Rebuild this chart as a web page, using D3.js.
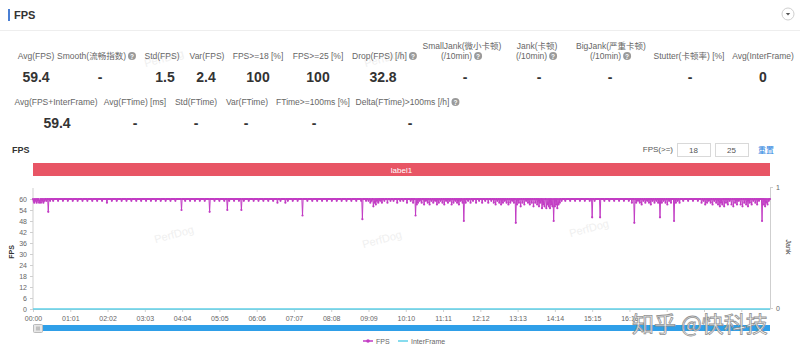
<!DOCTYPE html>
<html><head><meta charset="utf-8">
<script src="https://cdn.jsdelivr.net/npm/d3@7"></script>
<style>
html,body{margin:0;padding:0;background:#fff;}
svg{display:block;font-family:"Liberation Sans","Noto Sans CJK SC",sans-serif;}
</style></head>
<body>
<svg id="c" width="800" height="355"></svg>
<script>
// ---------------- DATA ----------------
const statLabelsRow1 = [["Avg(FPS)"],["Smooth(流畅指数)"],["Std(FPS)"],["Var(FPS)"],["FPS>=18 [%]"],["FPS>=25 [%]"],["Drop(FPS) [/h]"],["SmallJank(微小卡顿)","(/10min)"],["Jank(卡顿)","(/10min)"],["BigJank(严重卡顿)","(/10min)"],["Stutter(卡顿率) [%]"],["Avg(InterFrame)"]];
const statHelpRow1 = [false,true,false,false,false,false,true,true,true,true,false,false];
const statValuesRow1 = ["59.4","-","1.5","2.4","100","100","32.8","-","-","-","-","0"];
const statLabelsRow2 = ["Avg(FPS+InterFrame)","Avg(FTime) [ms]","Std(FTime)","Var(FTime)","FTime>=100ms [%]","Delta(FTime)>100ms [/h]"];
const statHelpRow2 = [false,false,false,false,false,true];
const statValuesRow2 = ["59.4","-","-","-","-","-"];

const fpsThresholds = ["18","25"];
const labelBars = ["label1"];
const durationSeconds = 1206;
const fpsBaseline = 60;
// seconds where the FPS left 60: [second, fps]
const fpsDips = [
[1,59],[2,58],[4,59],[6,58],[8,59],[10,58],[11,59],[13,58],[15,59],[17,58],[19,59],[22,59],[25,53],[28,59],
[33,59],[41,59],[49,59],[57,59],[65,59],[73,59],[81,59],[89,59],[97,59],[105,59],[113,59],[121,58],[129,59],[137,59],[145,59],[153,59],[161,59],[169,59],[177,59],[185,59],[193,59],[201,59],[209,59],[217,59],[225,59],[233,59],[243,54],[249,59],[257,59],[265,59],[273,59],[281,59],[289,53],[297,59],[305,59],[313,59],[318,54],[321,59],[329,59],[337,59],[341,54],[345,59],[353,59],[361,59],[369,59],[377,59],[385,59],[393,59],[400,58],[405,59],[413,58],[417,59],[425,59],[433,59],[441,51],[449,59],[457,59],[465,59],[473,59],[481,59],[489,59],[497,59],[505,59],[513,59],[521,59],[529,59],[537,59],
[539,49],[545,59],[549,59],[552,58],[554,59],[557,56],[559,58],[561,57],[563,59],[565,58],[568,59],[571,58],[575,59],[580,58],[585,59],[590,59],[596,58],[601,59],[606,59],[612,58],[618,59],[622,58],
[626,51],[628,57],[630,58],[633,59],[636,58],[640,57],[643,59],[646,58],[649,57],[652,59],[655,58],[658,59],[661,57],[664,58],[667,59],[670,58],[673,57],[676,59],[679,58],[682,59],[685,57],[688,58],[691,59],[694,58],[697,57],[700,59],[703,58],[705,48],[708,58],[712,59],[716,58],[720,59],[725,58],[730,59],[735,58],[740,59],[745,58],[750,59],[754,58],[757,57],[760,59],[763,58],[766,57],[769,58],[772,59],[775,58],[778,57],[781,58],[784,59],[787,58],
[790,47],[792,57],[795,58],[798,56],[801,58],[804,57],[807,59],[810,58],[813,57],[816,58],[819,56],[822,58],[825,57],[828,56],[830,58],[833,55],[835,57],[837,56],[840,55],[842,57],[844,56],[846,55],[848,57],[850,56],[852,48],[854,56],[856,57],[858,55],[860,57],[862,58],[865,59],
[871,59],[879,59],[887,59],[895,59],[903,59],[911,59],[915,50],[919,59],[928,50],[935,59],[943,59],[951,59],[959,59],[967,59],[975,59],
[980,58],[984,47],[987,58],[990,59],[993,58],[996,57],[999,59],[1002,58],[1005,59],[1008,58],[1011,57],[1014,59],[1017,58],[1020,59],[1023,58],[1026,50],[1029,58],[1032,59],[1035,58],[1038,57],[1041,59],[1044,58],[1049,48],[1052,58],[1055,59],[1058,58],
[1064,59],[1072,59],[1080,59],[1088,59],
[1094,58],[1097,59],[1100,57],[1103,58],[1106,59],[1109,58],[1112,57],[1115,59],[1118,58],[1121,57],[1124,56],[1126,58],[1128,57],[1131,56],[1134,58],[1137,57],[1140,59],[1143,57],[1146,56],[1149,58],[1152,57],[1155,59],[1158,57],[1161,56],[1164,58],[1167,57],[1170,56],[1173,58],[1176,57],[1179,59],[1182,58],[1185,57],[1188,59],[1193,48],[1196,57],[1198,56],[1200,58],[1202,57],[1204,59]
];
const interFrameSeries = [[0,0],[1206,0]];
const yTicks = [0,6,12,18,24,30,36,42,48,54,60];
const yMax = 66;
const jankTicks = [0,1];
// tick positions every 61 s; labels past 16:16 are hidden under the watermark in the source
const xTickLabels = ["00:00","01:01","02:02","03:03","04:04","05:05","06:06","07:07","08:08","09:09","10:10","11:11","12:12","13:13","14:14","15:15","16:16","17:17","18:18","19:19"];
const xTickLabelsShown = 17;
const legendItems = ["FPS","InterFrame"];

// ---------------- DRAW ----------------
const svg = d3.select("#c");
const FPS_COLOR = "#c23cc4", IF_COLOR = "#5fd0e8";
svg.append("rect").attr("width",800).attr("height",355).attr("fill","#fff");

// watermarks (PerfDog)
[[175,238],[383,243],[165,62],[385,62],[590,232]].forEach(([x,y])=>{
  svg.append("text").attr("transform",`translate(${x},${y}) rotate(-15)`).attr("text-anchor","middle")
    .attr("font-size",11).attr("fill","#efefef").text("PerfDog");
});

// header
svg.append("rect").attr("x",8).attr("y",9).attr("width",2).attr("height",12).attr("fill","#4a7fd4");
svg.append("text").attr("x",14).attr("y",19).attr("font-size",11).attr("font-weight","bold").attr("fill","#333").text("FPS");
svg.append("line").attr("x1",0).attr("x2",800).attr("y1",30.5).attr("y2",30.5).attr("stroke","#eeeeee");
svg.append("circle").attr("cx",788).attr("cy",14).attr("r",6).attr("fill","#fff").attr("stroke","#cfcfcf");
svg.append("path").attr("d","M785.8,13 L790.2,13 L788,15.6 Z").attr("fill","#555");

function helpIcon(x,y){
  svg.append("circle").attr("cx",x).attr("cy",y).attr("r",4).attr("fill","#9a9a9a");
  svg.append("text").attr("x",x).attr("y",y+2.6).attr("text-anchor","middle").attr("font-size",6.5).attr("font-weight","bold").attr("fill","#fff").text("?");
}
function labelWithHelp(lines, cx, baseY, help){
  const n = lines.length;
  lines.forEach((ln,i)=>{
    const isLast = i===n-1;
    const t = svg.append("text").attr("y",baseY-(n-1-i)*10).attr("font-size",8.5).attr("fill","#666").text(ln);
    let w = t.node().getComputedTextLength();
    const extra = (isLast && help)?11:0;
    t.attr("x",cx-(w+extra)/2);
    if(isLast && help) helpIcon(cx-(w+extra)/2+w+6, baseY-3);
  });
}
const row1X = [36,97,162,207,258,318,385,462,537,611,689,763];
const row1ValX = [36,100,165,206,258,318,383,465,539,610,690,763];
statLabelsRow1.forEach((l,i)=>labelWithHelp(l,row1X[i],59,statHelpRow1[i]));
statValuesRow1.forEach((v,i)=>svg.append("text").attr("x",row1ValX[i]).attr("y",82).attr("text-anchor","middle")
  .attr("font-size",14).attr("font-weight","bold").attr("fill","#333").text(v));
const row2X = [56,135,196,247,313,408];
const row2ValX = [57,135,196,246,314,410];
statLabelsRow2.forEach((l,i)=>labelWithHelp([l],row2X[i],105,statHelpRow2[i]));
statValuesRow2.forEach((v,i)=>svg.append("text").attr("x",row2ValX[i]).attr("y",128).attr("text-anchor","middle")
  .attr("font-size",14).attr("font-weight","bold").attr("fill","#333").text(v));

// chart section header
svg.append("text").attr("x",12).attr("y",153).attr("font-size",9).attr("font-weight","bold").attr("fill","#333").text("FPS");
svg.append("text").attr("x",673).attr("y",152).attr("text-anchor","end").attr("font-size",8).attr("fill","#555").text("FPS(>=)");
fpsThresholds.forEach((t,i)=>{
  const bx = 677 + i*38;
  svg.append("rect").attr("x",bx+0.5).attr("y",143.5).attr("width",33).attr("height",13).attr("fill","#fff").attr("stroke","#d9d9d9");
  svg.append("text").attr("x",bx+16.5).attr("y",153).attr("text-anchor","middle").attr("font-size",8).attr("fill","#555").text(t);
});
svg.append("text").attr("x",758).attr("y",153).attr("font-size",8).attr("fill","#2a7fe0").text("重置");

// scales
const L=33, R=770, T=188, B=309;
const x = d3.scaleLinear().domain([0,durationSeconds]).range([L,R]);
const y = d3.scaleLinear().domain([0,yMax]).range([B,T]);
const yJ = d3.scaleLinear().domain([0,1]).range([B-1,T-1]);

// label band
labelBars.forEach(lb=>{
  svg.append("rect").attr("x",L).attr("y",163).attr("width",R-L).attr("height",13).attr("fill","#e85565");
  svg.append("text").attr("x",(L+R)/2).attr("y",172.5).attr("text-anchor","middle").attr("font-size",8).attr("fill","#fff").text(lb);
});

// series
const dipMap = new Map(fpsDips.map(d=>[d[0],d[1]]));
const fpsSeries = d3.range(0,durationSeconds+1).map(t=>[t, dipMap.has(t)?dipMap.get(t):fpsBaseline]);

// axes
const axL = svg.append("g").attr("transform",`translate(${L},0)`).call(d3.axisLeft(y).tickValues(yTicks).tickSize(3).tickSizeOuter(0));
const parseT = s=>{const [m,ss]=s.split(":").map(Number);return m*60+ss;};
const axB = svg.append("g").attr("transform",`translate(0,${B})`).call(d3.axisBottom(x).tickValues(xTickLabels.map(parseT)).tickFormat((d,i)=>i<xTickLabelsShown?xTickLabels[i]:"").tickSize(3).tickSizeOuter(0));
const axR = svg.append("g").attr("transform",`translate(${R},0)`).call(d3.axisRight(yJ).tickValues(jankTicks).tickFormat(d3.format("d")).tickSize(3).tickSizeOuter(0));
[axL,axB,axR].forEach(g=>{
  g.selectAll("path.domain").attr("stroke","#cfcfcf");
  g.selectAll("line").attr("stroke","#cfcfcf");
  g.selectAll("text").attr("fill","#666").attr("font-size",7).attr("font-family","Liberation Sans, sans-serif");
});
axL.select("path.domain").attr("d",`M0,${T}V${B}`);
axB.selectAll("text").attr("dy","0.9em");

svg.append("text").attr("transform",`translate(14,252) rotate(-90)`).attr("text-anchor","middle").attr("font-size",7).attr("font-weight","bold").attr("fill","#333").text("FPS");
svg.append("text").attr("transform",`translate(786,247) rotate(90)`).attr("text-anchor","middle").attr("font-size",7).attr("fill","#333").text("Jank");

// InterFrame line
svg.append("path").datum(interFrameSeries).attr("fill","none").attr("stroke",IF_COLOR).attr("stroke-width",1.5)
  .attr("d",d3.line().x(d=>x(d[0])).y(d=>y(d[1])));

// FPS line + markers
svg.append("path").datum(fpsSeries).attr("fill","none").attr("stroke",FPS_COLOR).attr("stroke-width",1)
  .attr("d",d3.line().x(d=>x(d[0])).y(d=>y(d[1])));
svg.append("g").selectAll("circle").data(fpsSeries).join("circle")
  .attr("cx",d=>x(d[0])).attr("cy",d=>y(d[1])).attr("r",1.1).attr("fill",FPS_COLOR);

// slider
svg.append("rect").attr("x",L).attr("y",325).attr("width",R-L).attr("height",6).attr("fill","#2f9fe8");
svg.append("rect").attr("x",L+0.5).attr("y",324.5).attr("width",9).attr("height",8).attr("rx",1).attr("fill","#e6e6e6").attr("stroke","#bbb");
svg.append("line").attr("x1",L+4).attr("x2",L+4).attr("y1",326.5).attr("y2",330.5).attr("stroke","#999");
svg.append("line").attr("x1",L+6).attr("x2",L+6).attr("y1",326.5).attr("y2",330.5).attr("stroke","#999");

// legend
const lg = svg.append("g");
const legendColors = [FPS_COLOR, IF_COLOR];
const legendX = [363, 398];
legendItems.forEach((n,i)=>{
  const lx = legendX[i];
  lg.append("line").attr("x1",lx).attr("x2",lx+10).attr("y1",341).attr("y2",341).attr("stroke",legendColors[i]).attr("stroke-width",1.5);
  if(i===0) lg.append("circle").attr("cx",lx+5).attr("cy",341).attr("r",1.8).attr("fill",legendColors[i]);
  lg.append("text").attr("x",lx+13).attr("y",343.5).attr("font-size",7).attr("fill","#666").text(n);
});

// zhihu watermark
svg.append("text").attr("x",632).attr("y",332).attr("font-size",22).attr("font-family","Noto Sans CJK SC, sans-serif")
  .attr("fill","#ffffff").attr("stroke","#8a8a8a").attr("stroke-width",0.8).attr("opacity",0.92).text("知乎 @快科技");
</script>
</body></html>
